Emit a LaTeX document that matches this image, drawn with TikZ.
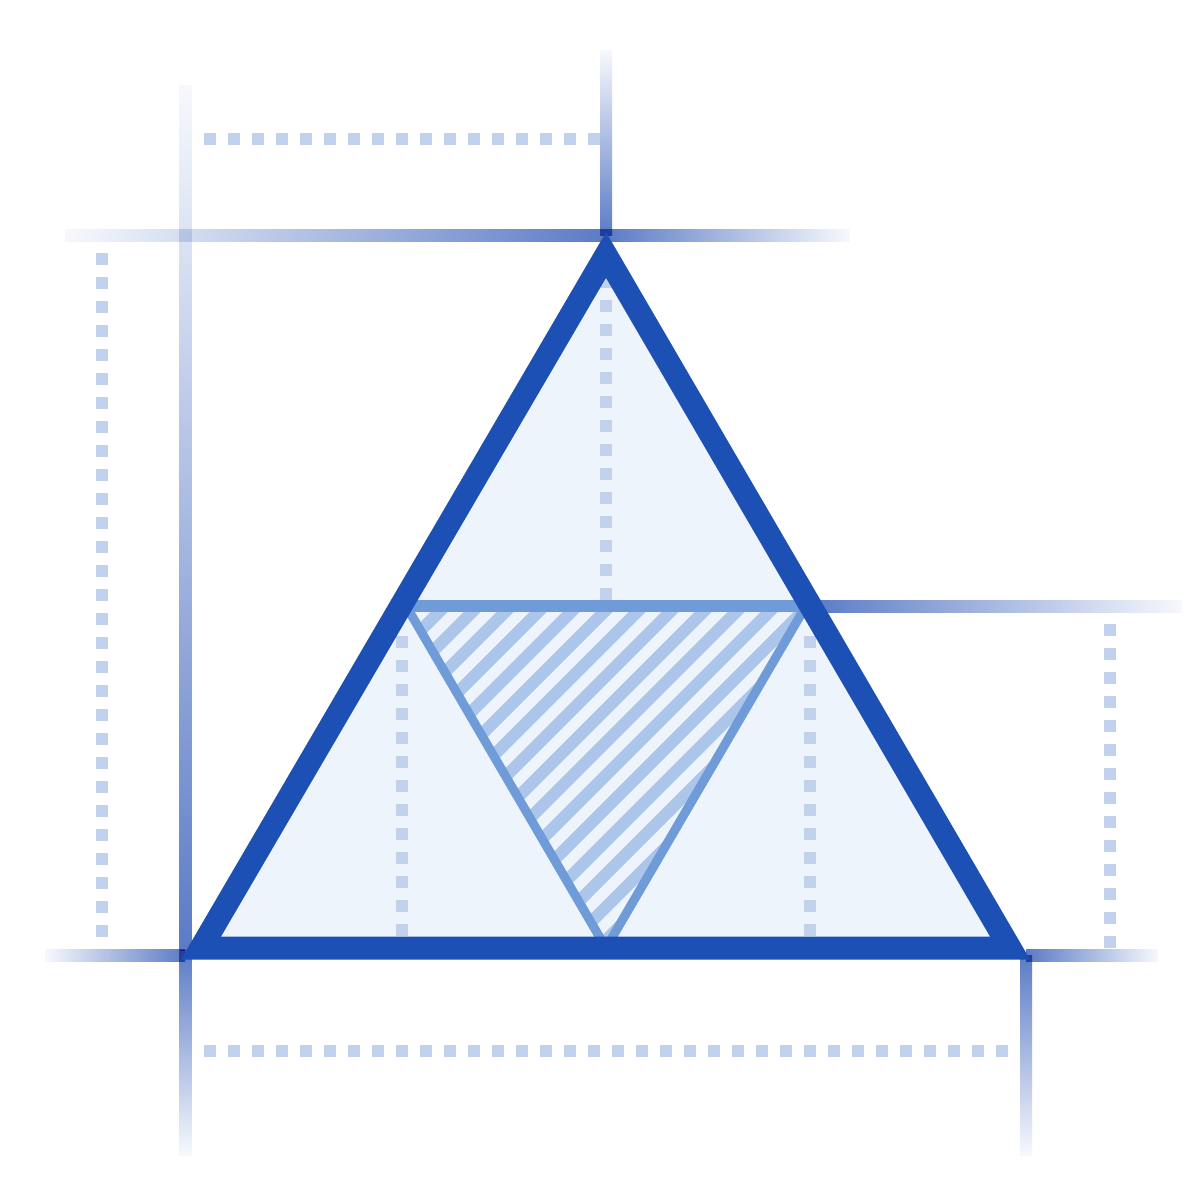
\documentclass[tikz,border=0pt]{standalone}
\usetikzlibrary{calc}
\definecolor{tristroke}{HTML}{1D50B5}
\definecolor{trifill}{HTML}{EEF4FC}
\definecolor{innerline}{HTML}{6F9BD8}
\definecolor{hatchc}{HTML}{ACC5EA}
\definecolor{dotc}{HTML}{C3D2EC}
\definecolor{guidec}{HTML}{5B7BC6}
\colorlet{guidefaint}{guidec!5!white}
\tikzset{
  dotline/.style={draw=dotc, line width=0.12cm, dash pattern=on 0.12cm off 0.12cm},
  mainstroke/.style={draw=tristroke, line width=0.23cm, line join=miter},
  innerside/.style={draw=innerline, line width=0.09cm},
  midline/.style={draw=innerline, line width=0.12cm},
  hatchline/.style={draw=hatchc, line width=0.12cm},
}
\begin{document}
\begin{tikzpicture}[x=0.01cm,y=-0.01cm]
\useasboundingbox (0,0) rectangle (1200,1200);
\fill[white] (0,0) rectangle (1200,1200);
% vertices
\coordinate (A) at (606,255);
\coordinate (B) at (201,948);
\coordinate (C) at (1010,948);
\coordinate (L) at (403.5,601.5);
\coordinate (R) at (808.5,601.5);
\coordinate (M) at (606,948);
% guides
\begin{scope}[blend mode=multiply]
\shade[top color=guidefaint, bottom color=guidec] (179.5,85) rectangle (191.5,950);
\shade[top color=guidec, bottom color=guidefaint] (179.5,950) rectangle (191.5,1155);
\shade[left color=guidefaint, right color=guidec] (65,229.5) rectangle (606,241);
\shade[left color=guidec, right color=guidefaint] (606,229.5) rectangle (850,241);
\shade[top color=guidefaint, bottom color=guidec] (600,50) rectangle (612,235);
\shade[left color=guidefaint, right color=guidec] (45,949.5) rectangle (185,961);
\shade[left color=guidec, right color=guidefaint] (1026,949.5) rectangle (1158,961);
\shade[top color=guidec, bottom color=guidefaint] (1020,955) rectangle (1032,1155);
\shade[left color=guidec, right color=guidefaint] (812,600) rectangle (1182,612);
\end{scope}
% outer dotted lines
\draw[dotline] (204,139) -- (600,139);
\draw[dotline] (102,253) -- (102,937);
\draw[dotline] (1110,624) -- (1110,948);
\draw[dotline] (204,1051) -- (1008,1051);
% triangle fill
\fill[trifill] (A) -- (B) -- (C) -- cycle;
% hatch
\begin{scope}
\clip (L) -- (R) -- (M) -- cycle;
\foreach \c in {985,1018,...,1600} {
  \draw[hatchline] (\c-500,500) -- (\c-1000,1000);
}
\end{scope}
% inner dotted lines
\draw[dotline] (606,276) -- (606,600);
\draw[dotline] (402,636) -- (402,936);
\draw[dotline] (810,636) -- (810,936);
% inner triangle
\draw[innerside] (L) -- (M) -- (R);
\draw[midline] (400,606) -- (812,606);
% main triangle
\draw[mainstroke] (A) -- (B) -- (C) -- cycle;
\end{tikzpicture}
\end{document}
